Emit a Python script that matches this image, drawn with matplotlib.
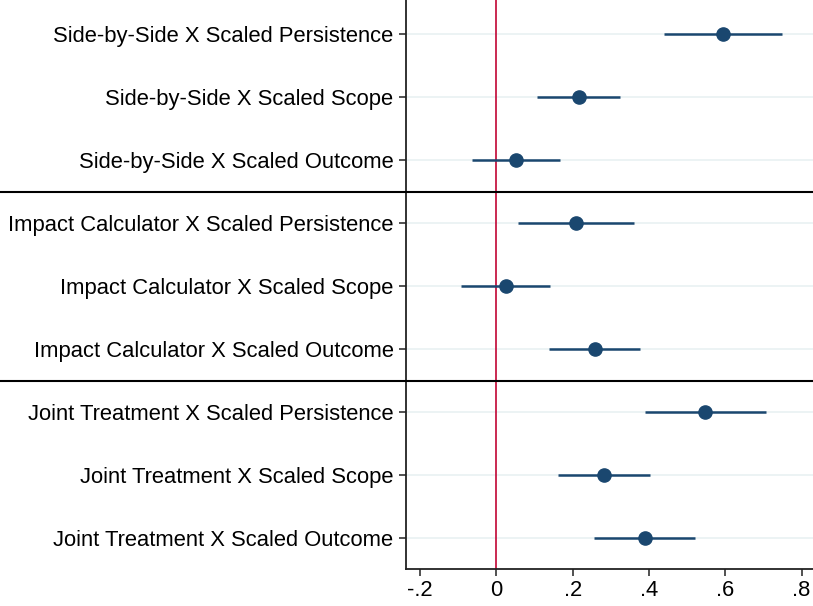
import matplotlib.pyplot as plt

plt.rcParams['font.family'] = ['Liberation Sans', 'DejaVu Sans']

# coefficient estimates and 95% confidence intervals, top to bottom
labels = [
    'Side-by-Side X Scaled Persistence',
    'Side-by-Side X Scaled Scope',
    'Side-by-Side X Scaled Outcome',
    'Impact Calculator X Scaled Persistence',
    'Impact Calculator X Scaled Scope',
    'Impact Calculator X Scaled Outcome',
    'Joint Treatment X Scaled Persistence',
    'Joint Treatment X Scaled Scope',
    'Joint Treatment X Scaled Outcome',
]
coef = [0.594, 0.217, 0.051, 0.209, 0.024, 0.258, 0.547, 0.282, 0.389]
ci_low = [0.440, 0.107, -0.065, 0.057, -0.093, 0.139, 0.390, 0.161, 0.256]
ci_high = [0.749, 0.325, 0.167, 0.361, 0.140, 0.376, 0.706, 0.402, 0.521]

xticks = [-0.2, 0, 0.2, 0.4, 0.6, 0.8]
xticklabels = ['-.2', '0', '.2', '.4', '.6', '.8']

navy = '#1a476f'
n = len(labels)
ypos = list(range(n, 0, -1))

fig = plt.figure(figsize=(8.13, 6.06), dpi=100)
ax = fig.add_axes([0.4994, 0.061, 0.5006, 0.939])

for y in ypos:
    ax.axhline(y, color='#eaf2f3', lw=1.3, zorder=0)

ax.axvline(0, color='#c10534', lw=1.2, zorder=1)

ax.hlines(ypos, ci_low, ci_high, color=navy, lw=1.8, zorder=2)
ax.plot(coef, ypos, 'o', color=navy, markersize=9.5, zorder=3)

# separators between the three treatment groups
for y in [6.5, 3.5]:
    ax.axhline(y, xmin=-1.0, xmax=1.0, color='black', lw=1.5, clip_on=False, zorder=4)

ax.set_xlim(-0.237, 0.83)
ax.set_ylim(0.51, 9.54)
ax.set_yticks(ypos)
ax.set_yticklabels(labels)
ax.set_xticks(xticks)
ax.set_xticklabels(xticklabels)
ax.tick_params(axis='both', labelsize=15.8, length=5, width=1.1, color='#222222')
ax.tick_params(axis='y', pad=4)
ax.tick_params(axis='x', pad=3)

ax.spines['top'].set_visible(False)
ax.spines['right'].set_visible(False)
for side in ['left', 'bottom']:
    ax.spines[side].set_color('#222222')
    ax.spines[side].set_linewidth(1.3)

fig.savefig('out.png', dpi=100)
